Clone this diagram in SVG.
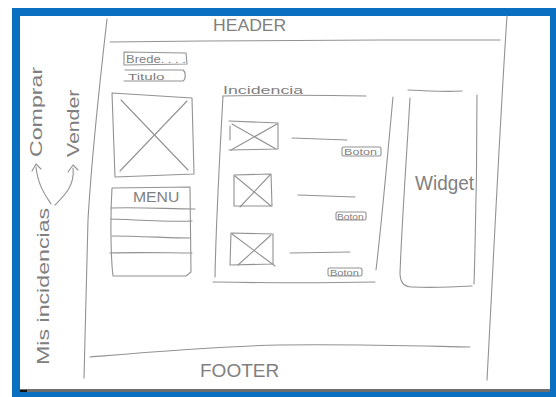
<svg xmlns="http://www.w3.org/2000/svg" width="556" height="397" viewBox="0 0 556 397">
<style>
.p{fill:none;stroke:#929292;stroke-width:1.1;stroke-linecap:round;stroke-linejoin:round}
.t{font-family:"Liberation Sans",Arial,sans-serif;fill:#808080}
</style>
<rect x="0" y="0" width="556" height="397" fill="#ffffff"/>
<g id="frame">
<rect x="12" y="8" width="544" height="389" fill="#0b6fc1"/>
<rect x="20" y="16" width="530" height="375" fill="#ffffff"/>
<rect x="20" y="389" width="530" height="3" fill="#6e6e6e"/>
<rect x="20" y="390" width="7" height="2" fill="#111"/>
</g>
<g id="page-outline">
<path class="p" d="M107,19 C100,80 92,150 88,220 C86,280 85,330 84,378"/>
<path class="p" d="M507,16 C500,120 494,250 487,380"/>
</g>
<g id="header">
<path class="p" d="M110,42 C200,41 300,40 380,40 C430,40 470,40 500,40"/>
<text class="t" transform="translate(213,31) scale(1.1,1)" font-size="16">HEADER</text>
</g>
<g id="footer">
<path class="p" d="M90,357 C150,352 220,346 280,345 C360,344 420,346 470,347"/>
<text class="t" transform="translate(200,377) scale(1.0,1)" font-size="19">FOOTER</text>
</g>
<g id="breadcrumb">
<path class="p" d="M124,52 L186,53 L187,64 L124,65 Z"/>
<text class="t" transform="translate(126,62.5) scale(1.3,1)" font-size="10">Brede. . . .</text>
</g>
<g id="titulo">
<path class="p" d="M125,70 L183,70 C186,72 186,79 183,81 L124,81"/>
<text class="t" transform="translate(128,79.5) scale(1.6,1)" font-size="9.5">Titulo</text>
</g>
<g id="image-main">
<path class="p" d="M112,93 L192,98 L194,174 L115,177 Z"/>
<path class="p" d="M121,100 L188,170"/>
<path class="p" d="M187,101 L120,171"/>
</g>
<g id="menu">
<path class="p" d="M112,188 L190,187 L191,272 L186,276 L113,276 C111,260 110,220 112,188"/>
<text class="t" transform="translate(133,202) scale(1.05,1)" font-size="15">MENU</text>
<path class="p" d="M111,208 C140,207 170,209 195,209"/>
<path class="p" d="M111,219 C140,220 170,222 192,221"/>
<path class="p" d="M112,236 C140,236 170,238 190,238"/>
<path class="p" d="M110,253 C140,252 170,253 192,253"/>
</g>
<g id="incidencia">
<text class="t" transform="translate(223,94) scale(1.55,1)" font-size="11.5">Incidencia</text>
<path class="p" d="M223,96 C270,95 320,95 366,96"/>
<path class="p" d="M223,96 C220,150 216,220 215,277"/>
<path class="p" d="M393,97 C388,150 382,220 376,270"/>
<path class="p" d="M213,282 C270,283 330,283 375,282"/>
</g>
<g id="item-1">
<path class="p" d="M229,121 L278,123 L278,149 L229,150"/>
<path class="p" d="M230,126 L230,140"/>
<path class="p" d="M232,124 L276,149"/>
<path class="p" d="M277,124 L231,150"/>
<path class="p" d="M292,138 L347,140"/>
<rect class="p" x="342" y="147" width="39" height="9" rx="1.5"/>
<text class="t" transform="translate(344,155) scale(1.4,1)" font-size="9">Boton</text>
</g>
<g id="item-2">
<path class="p" d="M234,175 L271,174 L272,206 L234,206 Z"/>
<path class="p" d="M235,176 L271,206"/>
<path class="p" d="M270,175 L240,207"/>
<path class="p" d="M298,195 L355,197"/>
<rect class="p" x="336" y="212" width="30" height="8" rx="1.5"/>
<text class="t" transform="translate(337,219.5) scale(1.2,1)" font-size="8.5">Boton</text>
</g>
<g id="item-3">
<path class="p" d="M231,233 L273,234 L273,264 L230,265 Z"/>
<path class="p" d="M232,234 L275,266"/>
<path class="p" d="M271,235 L238,265"/>
<path class="p" d="M290,253 L350,252"/>
<rect class="p" x="328" y="268" width="34" height="8" rx="1.5"/>
<text class="t" transform="translate(330,275.5) scale(1.3,1)" font-size="8.5">Boton</text>
</g>
<g id="widget">
<path class="p" d="M408,90 C425,91 445,92 462,91"/>
<path class="p" d="M410,98 C407,150 402,220 400,273 C400,283 405,287 412,287 C435,288 455,287 472,286"/>
<path class="p" d="M477,95 C477,150 476,220 474,284"/>
<text class="t" transform="translate(415,190) scale(0.95,1)" font-size="20">Widget</text>
</g>
<g id="side-nav">
<text class="t" transform="translate(49,365) rotate(-90) scale(1.45,1)" font-size="16">Mis incidencias</text>
<text class="t" transform="translate(42,157) rotate(-90) scale(1.45,1)" font-size="16">Comprar</text>
<text class="t" transform="translate(79,157) rotate(-90) scale(1.25,1)" font-size="17">Vender</text>
</g>
<g id="connectors">
<path class="p" d="M51,204 C46,196 38,186 36,167"/>
<path class="p" d="M32,171 L36,164 L41,169"/>
<path class="p" d="M55,205 C64,196 75,186 73,168"/>
<path class="p" d="M68,172 L73,165 L78,170"/>
</g>
</svg>
